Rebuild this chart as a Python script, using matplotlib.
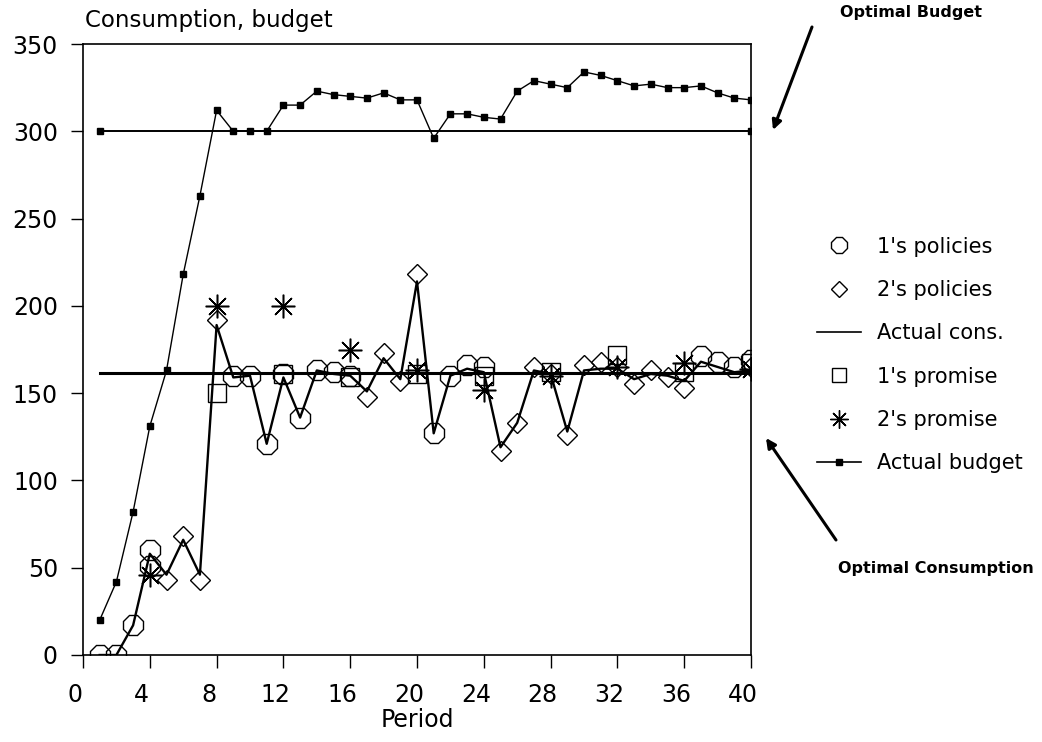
import matplotlib
matplotlib.use("Agg")
import matplotlib.pyplot as plt
import matplotlib.transforms as mtransforms
from matplotlib.lines import Line2D

# ---- data ----
periods = list(range(1, 41))

actual_budget = [20, 42, 82, 131, 163, 218, 263, 312, 300, 300,
                 300, 315, 315, 323, 321, 320, 319, 322, 318, 318,
                 296, 310, 310, 308, 307, 323, 329, 327, 325, 334,
                 332, 329, 326, 327, 325, 325, 326, 322, 319, 318]

actual_cons = [0, 0, 17, 58, 46, 66, 46, 189, 159, 160,
               121, 159, 136, 163, 161, 160, 151, 170, 158, 214,
               127, 160, 164, 162, 119, 133, 163, 161, 128, 163,
               164, 164, 158, 161, 160, 157, 168, 165, 162, 163]

p1_policy_x = [1, 2, 3, 4, 4, 9, 10, 11, 12, 13, 14, 15, 16, 21, 22, 23, 24, 37, 38, 39, 40]
p1_policy_y = [0, 0, 17, 60, 51, 160, 160, 121, 161, 136, 163, 162, 160, 127, 160, 166, 165, 171, 168, 165, 169]

p2_policy_x = [5, 6, 7, 8, 17, 18, 19, 20, 25, 26, 27, 28, 29, 30, 31, 32, 33, 34, 35, 36, 40]
p2_policy_y = [43, 68, 43, 192, 148, 173, 157, 218, 117, 133, 165, 161, 126, 166, 168, 165, 155, 163, 159, 153, 165]

p1_promise_x = [8, 12, 16, 20, 24, 28, 32, 36, 40]
p1_promise_y = [150, 161, 159, 161, 160, 162, 172, 162, 167]

p2_promise_x = [4, 8, 12, 16, 20, 24, 28, 32, 36, 40]
p2_promise_y = [46, 200, 200, 175, 163, 152, 160, 165, 167, 164]

optimal_budget = 300
optimal_cons = 161.5

FONT = "DejaVu Sans"
plt.rcParams["font.family"] = FONT

fig = plt.figure(figsize=(10.42, 7.42), dpi=100)
ax = fig.add_axes([83 / 1042, 1 - 655 / 742, (751 - 83) / 1042, (655 - 44) / 742])

# optimal lines
ax.plot([periods[0], periods[-1]], [optimal_budget] * 2, color="black", lw=1.4,
        marker="s", ms=4.5, zorder=2)
ax.plot([periods[0], periods[-1]], [optimal_cons] * 2, color="black", lw=2.2, zorder=2)

# actual budget
ax.plot(periods, actual_budget, color="black", lw=1.0, marker="s", ms=4.5, zorder=3)

# actual consumption
ax.plot(periods, actual_cons, color="black", lw=1.7, zorder=4)

mk = dict(linestyle="none", markerfacecolor="none", markeredgecolor="black", zorder=5)
ax.plot(p1_policy_x, p1_policy_y, marker="8", ms=15, mew=1.0, **mk)
ax.plot(p2_policy_x, p2_policy_y, marker="D", ms=10, mew=1.0, **mk)
ax.plot(p1_promise_x, p1_promise_y, marker="s", ms=13, mew=1.0, **mk)
ax.plot(p2_promise_x, p2_promise_y, marker=(8, 2, 0), ms=17, mew=1.1, linestyle="none",
        color="black", zorder=5)

ax.set_xlim(0, 40)
ax.set_ylim(0, 350)
ax.set_xticks(range(0, 41, 4))
ax.set_yticks(range(0, 351, 50))
ax.tick_params(axis="both", direction="out", length=9, width=1.0, labelsize=17)
ax.tick_params(axis="x", pad=11)
ax.tick_params(axis="y", pad=9)
for sp in ax.spines.values():
    sp.set_linewidth(1.2)

shift = mtransforms.ScaledTranslation(-8 / 100, 0, fig.dpi_scale_trans)
for lab in ax.get_xticklabels():
    lab.set_transform(lab.get_transform() + shift)

fig.text(85 / 1042, 1 - 20 / 742, "Consumption, budget", fontsize=16.5, va="center", ha="left")
fig.text(417 / 1042, 1 - 720 / 742, "Period", fontsize=17, va="center", ha="center")

# legend
handles = [
    Line2D([], [], marker="8", ms=12, mfc="none", mec="black", ls="none"),
    Line2D([], [], marker="D", ms=8, mfc="none", mec="black", ls="none"),
    Line2D([], [], color="black", lw=1.2),
    Line2D([], [], marker="s", ms=10, mfc="none", mec="black", ls="none"),
    Line2D([], [], marker=(8, 2, 0), ms=13, color="black", ls="none"),
    Line2D([], [], color="black", lw=1.2, marker="s", ms=4),
]
labels = ["1's policies", "2's policies", "Actual cons.", "1's promise",
          "2's promise", "Actual budget"]
fig.legend(handles, labels, loc="upper left", bbox_to_anchor=(798 / 1042, 1 - 218 / 742),
           frameon=False, fontsize=15, handlelength=2.1, labelspacing=1.12,
           handletextpad=0.8)

# annotations
fig.text(840 / 1042, 1 - 12 / 742, "Optimal Budget", fontsize=11.5, fontweight="bold",
         ha="left", va="center")
fig.text(838 / 1042, 1 - 568 / 742, "Optimal Consumption", fontsize=11.5, fontweight="bold",
         ha="left", va="center")
ax.annotate("", xy=(773, 742 - 130), xycoords="figure pixels",
            xytext=(812, 742 - 27), textcoords="figure pixels",
            arrowprops=dict(arrowstyle="-|>", color="black", lw=2.2,
                            shrinkA=0, shrinkB=0, mutation_scale=14),
            annotation_clip=False)
ax.annotate("", xy=(766, 742 - 438), xycoords="figure pixels",
            xytext=(836, 742 - 540), textcoords="figure pixels",
            arrowprops=dict(arrowstyle="-|>", color="black", lw=2.2,
                            shrinkA=0, shrinkB=0, mutation_scale=14),
            annotation_clip=False)

fig.savefig("out.png", dpi=100)
